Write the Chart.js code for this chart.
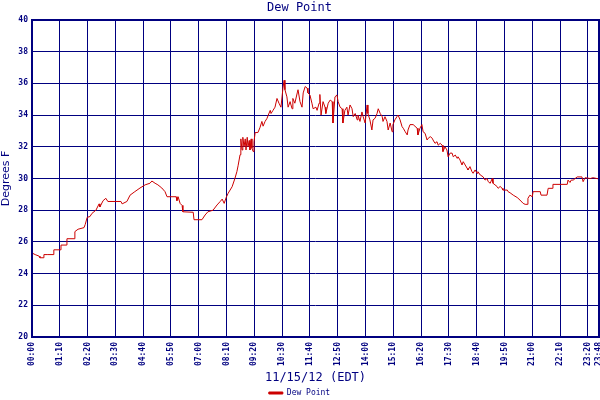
<!DOCTYPE html>
<html>
<head>
<meta charset="utf-8">
<script src="https://cdn.jsdelivr.net/npm/chart.js@4"></script>
<style>
  html, body { margin: 0; padding: 0; background: #fff; }
  #wrap { width: 600px; height: 400px; }
</style>
</head>
<body>
<div id="wrap"><canvas id="myChart" width="600" height="400"></canvas></div>
<script>
// minutes after midnight, 11/15/12
var xMinutes = [0, 8, 18, 20, 28, 30, 40, 53, 55, 71, 73, 86, 88, 106, 108, 116, 131, 134, 139, 146,
  151, 161, 169, 171, 179, 186, 191, 224, 227, 239, 247, 259, 272, 285, 297, 302, 310, 317, 327, 335,
  340, 363, 365, 368, 373, 378, 380, 406, 408, 428, 436, 443, 456, 466, 474, 479, 484, 489, 494, 504,
  511, 516, 519, 524, 526, 529, 531, 534, 537, 539, 542, 544, 547, 549, 552, 554, 557, 559, 562, 569,
  574, 579, 582, 587, 592, 595, 600, 602, 607, 612, 617, 622, 627, 632, 635, 637, 642, 645, 650, 655,
  657, 662, 668, 670, 675, 680, 683, 688, 693, 695, 700, 705, 708, 715, 718, 723, 725, 728, 733, 738,
  740, 746, 751, 756, 758, 763, 768, 771, 776, 781, 783, 788, 793, 796, 801, 806, 809, 814, 819, 821,
  826, 831, 834, 839, 844, 846, 851, 856, 859, 864, 869, 872, 877, 882, 884, 889, 894, 897, 902, 907,
  909, 914, 919, 922, 927, 932, 935, 940, 945, 947, 952, 960, 970, 972, 977, 982, 985, 990, 995, 998,
  1003, 1008, 1010, 1015, 1020, 1023, 1028, 1033, 1035, 1040, 1045, 1048, 1053, 1058, 1061, 1066, 1071, 1073, 1078, 1083,
  1086, 1091, 1096, 1098, 1103, 1108, 1111, 1116, 1121, 1123, 1129, 1136, 1141, 1146, 1149, 1154, 1159, 1161, 1166, 1171,
  1174, 1179, 1184, 1186, 1197, 1199, 1204, 1212, 1222, 1229, 1237, 1242, 1247, 1249, 1254, 1260, 1262, 1280, 1282, 1297,
  1300, 1310, 1312, 1348, 1350, 1355, 1358, 1363, 1373, 1385, 1388, 1393, 1406, 1413, 1428];

var dewPoint = [25.3, 25.2, 25.1, 25.0, 25.0, 25.2, 25.2, 25.2, 25.5, 25.5, 25.8, 25.8, 26.2, 26.2, 26.65, 26.8, 26.9, 27.1, 27.55, 27.6,
  27.8, 28.0, 28.4, 28.2, 28.6, 28.75, 28.55, 28.55, 28.4, 28.55, 28.95, 29.17, 29.4, 29.6, 29.7, 29.84, 29.7, 29.6, 29.4, 29.17,
  28.85, 28.85, 28.6, 28.85, 28.43, 28.3, 27.9, 27.87, 27.4, 27.4, 27.7, 27.9, 28.0, 28.33, 28.55, 28.7, 28.43, 28.8, 29.07, 29.48,
  30.0, 30.43, 30.8, 31.5, 32.5, 31.8, 32.6, 32.0, 32.5, 31.8, 32.6, 32.0, 32.4, 31.8, 32.5, 31.9, 31.7, 32.3, 32.9, 32.9,
  33.2, 33.6, 33.3, 33.6, 33.8, 34.0, 34.3, 34.1, 34.3, 34.5, 35.05, 34.75, 34.5, 35.7, 36.2, 35.6, 35.15, 34.5, 34.85, 34.4,
  35.05, 34.75, 35.4, 35.6, 34.85, 34.5, 35.4, 35.8, 35.7, 35.4, 35.27, 34.75, 34.4, 34.5, 34.3, 34.75, 35.3, 34.0, 34.85, 34.5,
  34.1, 34.75, 34.95, 34.85, 33.5, 35.15, 35.27, 34.85, 34.5, 34.4, 33.5, 34.3, 34.5, 34.0, 34.64, 34.4, 33.9, 34.1, 33.7, 34.0,
  33.6, 34.2, 33.9, 33.5, 34.64, 34.1, 33.7, 33.06, 33.7, 33.8, 34.1, 34.4, 34.1, 33.9, 33.6, 33.9, 33.6, 33.06, 33.5, 32.95,
  33.4, 33.7, 33.9, 34.0, 33.7, 33.27, 33.17, 32.95, 32.75, 33.06, 33.4, 33.4, 33.17, 32.75, 33.17, 33.4, 32.95, 32.85, 32.43, 32.54,
  32.64, 32.54, 32.43, 32.22, 32.32, 32.1, 32.22, 32.1, 31.7, 32.0, 31.8, 31.37, 31.6, 31.6, 31.37, 31.48, 31.27, 31.37, 31.17, 30.85,
  31.06, 30.85, 30.64, 30.54, 30.75, 30.43, 30.33, 30.54, 30.33, 30.43, 30.22, 30.11, 29.9, 30.0, 29.8, 29.7, 30.0, 29.7, 29.6, 29.5,
  29.38, 29.5, 29.38, 29.27, 29.27, 29.17, 29.1, 28.95, 28.8, 28.64, 28.43, 28.37, 28.37, 28.75, 28.95, 28.85, 29.17, 29.17, 28.95, 28.95,
  29.38, 29.38, 29.63, 29.63, 29.9, 29.75, 29.9, 29.9, 30.1, 30.1, 29.8, 30.05, 30.0, 30.05, 29.97];

var xTickMinutes = [0, 70, 140, 210, 280, 350, 420, 490, 560, 630, 700, 770, 840, 910, 980, 1050, 1120, 1190, 1260, 1330, 1400, 1428];
var xTickLabels = ['00:00', '01:10', '02:20', '03:30', '04:40', '05:50', '07:00', '08:10', '09:20', '10:30', '11:40',
  '12:50', '14:00', '15:10', '16:20', '17:30', '18:40', '19:50', '21:00', '22:10', '23:20', '23:48'];

var navy = '#000080';
var mono = "'DejaVu Sans Mono', monospace";

var points = [];
for (i = 0; i < xMinutes.length; i++) {
  points.push({x: xMinutes[i], y: dewPoint[i]});
}

// thick frame round the plot
var frame = {
  id: 'frame',
  afterDraw: function(chart) {
    var a = chart.chartArea, c = chart.ctx;
    c.save();
    c.strokeStyle = navy;
    c.lineWidth = 2;
    c.strokeRect(a.left, a.top, a.right - a.left, a.bottom - a.top);
    c.restore();
  }
};

var ctx = document.getElementById('myChart');
var myChart = new Chart(ctx, {
  type: 'line',
  data: {
    datasets: [{
      label: 'Dew Point',
      data: points,
      borderColor: '#cc0000',
      backgroundColor: '#cc0000',
      borderWidth: 1,
      pointRadius: 0,
      tension: 0,
      fill: false
    }]
  },
  options: {
    responsive: false,
    animation: false,
    layout: {padding: {left: 0, right: 1, top: 0, bottom: 0}},
    plugins: {
      title: {
        display: true,
        text: 'Dew Point',
        color: navy,
        font: {family: mono, size: 12, weight: 'normal', lineHeight: 1},
        padding: {top: 2, bottom: 6}
      },
      legend: {
        display: true,
        position: 'bottom',
        maxHeight: 14,
        labels: {
          color: navy,
          font: {family: mono, size: 8},
          boxWidth: 14,
          boxHeight: 2,
          padding: 3
        }
      },
      tooltip: {enabled: false}
    },
    scales: {
      x: {
        type: 'linear',
        min: 0,
        max: 1428,
        afterBuildTicks: function(scale) {
          scale.ticks = xTickMinutes.map(function(v) { return {value: v}; });
        },
        afterFit: function(scale) {
          scale.height = 49;
          scale.paddingLeft = 0;
          scale.paddingRight = 1;
        },
        grid: {color: navy, lineWidth: 1, drawTicks: false},
        border: {display: false},
        ticks: {
          autoSkip: false,
          maxRotation: 90,
          minRotation: 90,
          padding: 5,
          color: navy,
          font: {family: mono, size: 8, weight: 'bold'},
          callback: function(v, i) { return xTickLabels[i]; }
        },
        title: {
          display: true,
          text: '11/15/12 (EDT)',
          color: navy,
          font: {family: mono, size: 12},
          padding: {top: 4, bottom: 1}
        }
      },
      y: {
        min: 20,
        max: 40,
        afterFit: function(scale) { scale.width = 32; },
        grid: {color: navy, lineWidth: 1, drawTicks: false},
        border: {display: false},
        ticks: {
          stepSize: 2,
          padding: 4,
          color: navy,
          font: {family: mono, size: 8, weight: 'bold'}
        },
        title: {
          display: true,
          text: 'Degrees F',
          color: navy,
          font: {family: "'DejaVu Sans', sans-serif", size: 11},
          padding: {top: 0, bottom: 2}
        }
      }
    }
  },
  plugins: [frame]
});
</script>
</body>
</html>
